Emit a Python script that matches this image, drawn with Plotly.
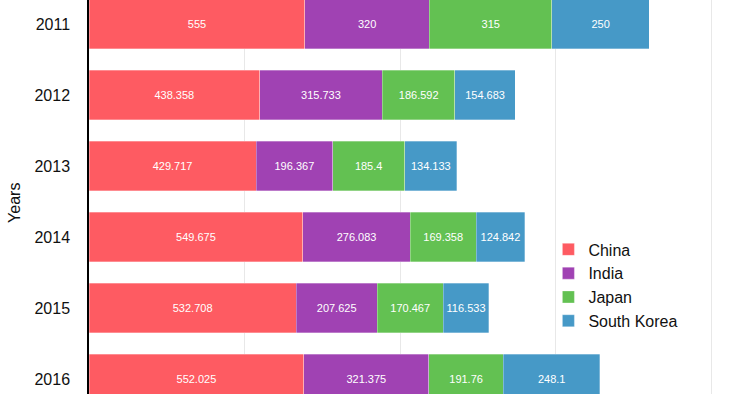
import plotly.graph_objects as go

years = ["2011", "2012", "2013", "2014", "2015", "2016"]
china = [555, 438.358, 429.717, 549.675, 532.708, 552.025]
india = [320, 315.733, 196.367, 276.083, 207.625, 321.375]
japan = [315, 186.592, 185.4, 169.358, 170.467, 191.76]
korea = [250, 154.683, 134.133, 124.842, 116.533, 248.1]

series = [
    ("China", china, "#fe5b62"),
    ("India", india, "#a042b3"),
    ("Japan", japan, "#63c152"),
    ("South Korea", korea, "#4699c7"),
]

fig = go.Figure()
for name, vals, color in series:
    fig.add_trace(go.Bar(
        y=years, x=vals, name=name, orientation="h",
        marker=dict(color=color, line=dict(color="rgba(255,255,255,0.6)", width=0.5)),
        text=[str(v) for v in vals], texttemplate="%{text}",
        textposition="inside", insidetextanchor="middle", textangle=0,
        constraintext="none",
        textfont=dict(color="white", size=11, family="Liberation Sans, Arial"),
    ))

fig.update_layout(
    barmode="stack", bargap=0.3,
    width=750, height=394,
    margin=dict(l=89, r=0, t=0, b=0, autoexpand=False),
    plot_bgcolor="white", paper_bgcolor="white",
    font=dict(family="Liberation Sans, Arial", size=16, color="#111"),
    legend=dict(x=0.695, y=0.41, xanchor="left", yanchor="top",
                font=dict(size=16), bgcolor="rgba(0,0,0,0)",
                itemwidth=30, tracegroupgap=0, traceorder="normal"),
    showlegend=True,
    annotations=[dict(text="Years", textangle=-90, xref="paper", yref="paper",
                      x=-0.112, y=0.485, xanchor="center", yanchor="middle",
                      showarrow=False, font=dict(size=16, color="#111"))],
)
fig.update_xaxes(range=[0, 1699], showgrid=True, gridcolor="#e8e8e8", gridwidth=1,
                 dtick=400, showticklabels=False, zeroline=False, ticks="",
                 automargin=False)
fig.update_yaxes(type="category", range=[5.21, -0.338], showgrid=False,
                 showline=True, linecolor="black", linewidth=1.5, ticks="",
                 ticklabelstandoff=14, tickfont=dict(size=16), automargin=False)

fig.write_html("out.html", config={"displayModeBar": False},
               post_script="document.body.style.margin='0';document.body.style.overflow='hidden';")
